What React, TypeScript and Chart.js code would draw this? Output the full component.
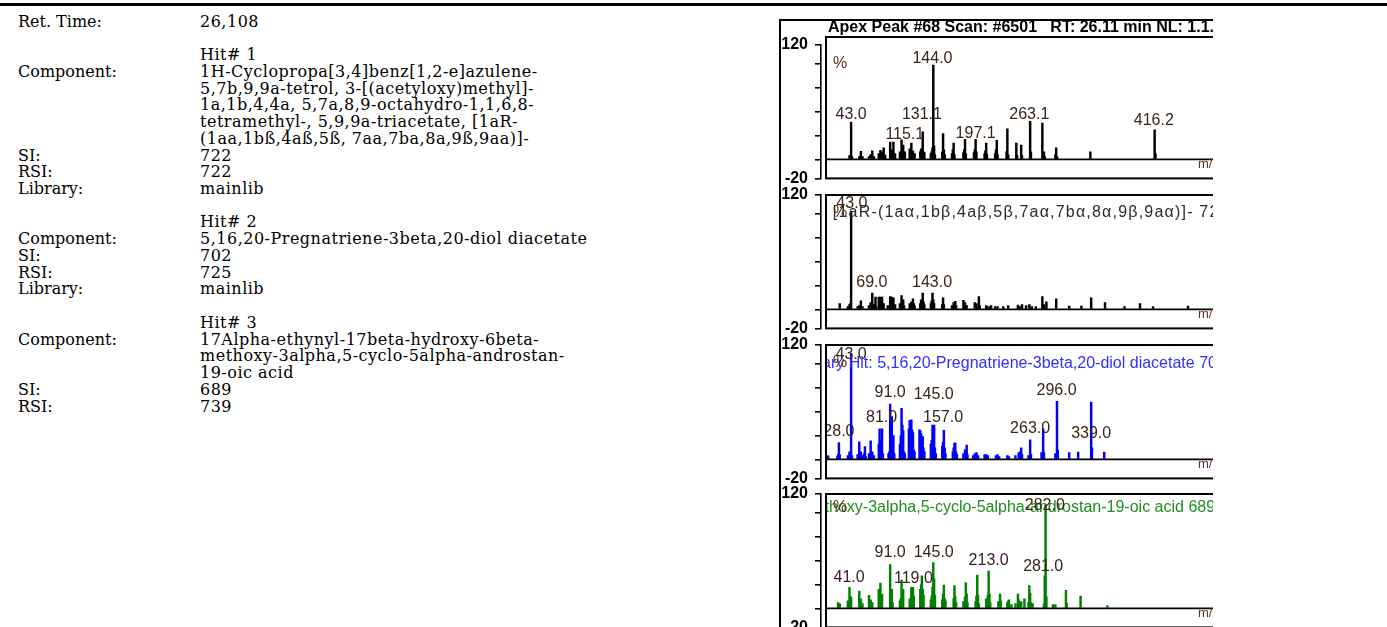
import React, { useEffect, useRef } from "react";
import { Chart, registerables } from "chart.js";

Chart.register(...registerables);

// ---------- left table text ----------
const retTime = "26,108";
const hit1Component = [
  "1H-Cyclopropa[3,4]benz[1,2-e]azulene-",
  "5,7b,9,9a-tetrol, 3-[(acetyloxy)methyl]-",
  "1a,1b,4,4a, 5,7a,8,9-octahydro-1,1,6,8-",
  "tetramethyl-, 5,9,9a-triacetate, [1aR-",
  "(1aa,1bß,4aß,5ß, 7aa,7ba,8a,9ß,9aa)]-",
];
const hit2Component = ["5,16,20-Pregnatriene-3beta,20-diol diacetate"];
const hit3Component = [
  "17Alpha-ethynyl-17beta-hydroxy-6beta-",
  "methoxy-3alpha,5-cyclo-5alpha-androstan-",
  "19-oic acid",
];
const hitSI = ["722", "702", "689"];
const hitRSI = ["722", "725", "739"];
const hitLibrary = ["mainlib", "mainlib"];

// ---------- spectra: [m/z, relative intensity] ----------
const samplePeaks: [number, number][] = [
  [41, 4], [43, 39], [44, 3], [53, 3], [55, 8.5], [57, 3], [65, 3], [67, 5], [69, 9], [71, 3],
  [77, 6], [79, 9.5], [81, 8], [83, 12], [84, 5], [85, 4], [91, 18], [92, 6], [93, 10], [94, 6],
  [95, 18], [96, 5], [97, 6], [103, 8], [104, 7], [105, 20.5], [106, 8], [107, 15], [108, 5], [109, 8],
  [115, 11], [116, 8], [117, 17], [118, 6], [119, 9], [121, 6], [128, 8], [129, 11], [130, 8], [131, 29],
  [132, 8], [133, 7], [141, 6], [142, 8], [143, 12], [144, 99], [145, 14], [146, 5], [155, 8], [156, 27],
  [157, 10], [158, 5], [167, 6], [168, 10], [169, 17], [170, 5], [181, 7], [182, 10], [183, 21], [184, 6],
  [194, 7], [195, 10], [196, 21], [197, 8], [207, 6], [208, 9], [209, 17], [210, 5], [220, 6], [221, 10],
  [222, 20], [223, 5], [234, 8], [235, 32], [236, 5], [246, 17], [247, 4], [252, 15], [253, 4], [263, 40],
  [264, 8], [278, 38], [280, 8], [281, 3], [294, 5], [295, 12], [296, 3], [337, 8], [416, 31], [417, 6],
];
const hit1Peaks: [number, number][] = [
  [29, 6], [39, 3], [41, 5], [42, 6], [43, 103], [51, 3], [53, 4], [55, 9], [57, 3], [65, 4],
  [67, 7], [69, 17], [71, 5], [73, 13], [74, 3], [77, 13], [79, 13], [81, 13], [83, 6], [88, 4],
  [91, 13.5], [92, 10], [93, 13], [94, 6], [95, 12], [97, 5], [103, 6], [105, 14.5], [106, 8], [107, 10],
  [108, 4], [115, 6], [117, 8], [119, 11], [120, 6], [121, 4], [128, 6], [129, 10], [130, 8], [131, 17],
  [132, 8], [133, 5], [141, 6], [142, 9], [143, 17], [144, 10], [145, 6], [155, 5], [156, 12], [157, 5],
  [167, 4], [169, 7], [170, 3], [171, 8.5], [172, 4], [181, 9.5], [182, 4], [183, 7], [185, 4], [195, 7],
  [197, 6], [198, 3], [200, 13.5], [201, 4], [209, 4], [210, 3], [213, 3], [215, 4], [220, 3], [223, 3],
  [230, 3], [236, 4], [248, 4.5], [250, 3], [253, 5], [258, 4], [262, 5], [265, 3], [270, 3], [278, 13.5],
  [280, 5], [283, 8], [295, 11], [311, 3.5], [326, 3.5], [338, 12], [355, 7], [379, 3], [398, 6], [414, 3],
  [457, 3.5],
];
const hit2Peaks: [number, number][] = [
  [14, 4], [15, 3], [26, 3], [27, 5], [28, 17.5], [29, 5], [39, 4], [41, 8], [42, 6], [43, 111],
  [44, 4], [51, 5], [52, 3], [53, 18.5], [54, 4], [55, 8], [57, 4], [59, 6], [60, 13.5], [61, 3],
  [65, 6], [66, 4], [67, 19.5], [68, 5], [69, 8], [71, 4], [77, 16], [78, 32], [79, 20], [80, 6],
  [81, 32], [82, 6], [89, 6], [90, 8], [91, 58], [92, 22], [93, 45], [94, 10], [95, 25], [96, 6],
  [103, 16], [104, 25], [105, 53.5], [106, 36], [107, 30], [108, 8], [109, 6], [114, 32], [115, 41], [116, 28],
  [117, 41.5], [118, 31], [119, 28], [120, 10], [121, 8], [127, 31], [128, 30], [129, 27], [130, 23], [131, 24],
  [132, 12], [133, 8], [141, 16], [142, 20], [143, 36], [144, 18], [145, 36], [146, 12], [147, 6], [155, 14],
  [156, 18], [157, 30.5], [158, 12], [159, 6], [168, 8], [169, 12], [170, 17], [171, 17], [172, 8], [173, 5],
  [181, 6], [183, 10], [184, 8], [185, 15], [186, 5], [193, 4], [195, 6], [197, 7], [199, 4], [207, 5],
  [209, 5], [211, 4], [221, 4], [223, 5], [225, 3], [235, 4], [237, 3], [245, 4], [249, 7], [251, 8],
  [252, 12], [253, 5], [261, 4], [263, 20.5], [264, 5], [277, 7], [279, 32], [280, 7], [294, 6], [296, 61],
  [297, 10], [311, 7], [322, 7.5], [338, 60], [339, 12], [354, 7.5],
];
const hit3Peaks: [number, number][] = [
  [27, 6], [29, 5], [39, 8], [41, 22], [42, 6], [43, 12], [53, 18], [55, 10], [57, 5], [65, 13.6],
  [67, 9], [69, 6], [77, 20], [78, 10], [79, 26.6], [80, 8], [81, 15], [91, 46], [92, 10], [93, 20],
  [94, 6], [103, 8], [104, 10], [105, 29.7], [106, 17], [107, 20], [115, 10], [117, 22], [118, 8], [119, 22],
  [120, 13], [128, 20], [129, 25], [130, 34], [131, 20], [132, 14], [141, 9], [142, 13], [143, 22], [144, 48],
  [145, 31], [146, 14], [155, 9], [156, 15], [157, 24.5], [158, 10], [159, 8], [169, 10], [170, 24], [171, 12],
  [172, 6], [181, 7], [183, 12], [184, 27], [185, 15], [186, 6], [196, 7], [197, 13], [198, 35], [199, 14],
  [200, 5], [209, 10], [211, 14], [212, 39], [213, 15], [214, 6], [224, 7], [226, 15], [227, 8], [235, 6],
  [236, 7.5], [237, 9], [240, 4], [245, 5], [248, 15], [249, 9], [252, 7], [256, 10], [261, 6], [262, 24],
  [263, 16], [264, 6], [266, 5], [280, 5], [281, 34], [282, 109], [283, 12], [291, 4], [294, 4], [307, 19],
  [308, 5], [325, 13], [358, 3],
];

// peak annotations: [text, m/z of text centre, intensity level of text baseline]
const sampleLabels: [string, number, number][] = [
  ["43.0", 43, 42], ["144.0", 143, 101], ["131.1", 130, 42], ["115.1", 109, 21],
  ["197.1", 196, 22], ["263.1", 262, 42], ["416.2", 415, 36],
];
const hit1Labels: [string, number, number][] = [
  ["43.0", 44, 106], ["69.0", 68.5, 23], ["143.0", 142.5, 23],
];
const hit2Labels: [string, number, number][] = [
  ["43.0", 43, 105], ["28.0", 28, 24], ["91.0", 91, 65], ["81.0", 80.5, 39.6], ["145.0", 144.5, 63.5],
  ["157.0", 156, 39.6], ["263.0", 263, 27.6], ["296.0", 295.5, 67.6], ["339.0", 338, 22.5],
];
const hit3Labels: [string, number, number][] = [
  ["282.0", 281, 103], ["91.0", 91, 54], ["145.0", 144.5, 54], ["41.0", 40.5, 28],
  ["119.0", 119.5, 27], ["213.0", 212, 46], ["281.0", 279, 39],
];

const headerTitle = "Apex Peak #68 Scan: #6501   RT: 26.11 min NL: 1.1...";
const hitTitles = [
  "5,7b,9,9a-tetrol, 3-[(acetyloxy)methyl]-1a,1b,4,4a,5,7a,8,9-octahydro-1,1,6,8-tetramethyl-, 5,9,9a-triacetate, [1aR-(1a\u03b1,1b\u03b2,4a\u03b2,5\u03b2,7a\u03b1,7b\u03b1,8\u03b1,9\u03b2,9a\u03b1)]- 722",
  "Library Hit: 5,16,20-Pregnatriene-3beta,20-diol diacetate 702",
  "17Alpha-ethynyl-17beta-hydroxy-6beta-methoxy-3alpha,5-cyclo-5alpha-androstan-19-oic acid 689",
];

const X_MIN = 6;
const X_MAX = 500;
const Y_TICKS = [-20, 0, 25, 50, 75, 100, 120];

type Panel = {
  peaks: [number, number][];
  labels: [string, number, number][];
  color: string;
  titleColor: string;
  title: string | null;
  anchor: string;
  anchorMz: number;
  titleSpacing: number;
  titleLevel: number;
  percentLevel: number;
  top: number;
  boxExtra: number;
};

const panels: Panel[] = [
  { peaks: samplePeaks, labels: sampleLabels, color: "#000000", titleColor: "#000", title: null, anchor: "", anchorMz: 0, titleSpacing: 0, titleLevel: 0, percentLevel: 100, top: 45, boxExtra: 8 },
  { peaks: hit1Peaks, labels: hit1Labels, color: "#000000", titleColor: "#2a2a2a", title: hitTitles[0], anchor: "1aR-", anchorMz: 27.5, titleSpacing: 1.2, titleLevel: 102, percentLevel: 102, top: 195, boxExtra: 0 },
  { peaks: hit2Peaks, labels: hit2Labels, color: "#0000ff", titleColor: "#3030ff", title: hitTitles[1], anchor: "5,16", anchorMz: 75, titleSpacing: 0, titleLevel: 100, percentLevel: 102, top: 345, boxExtra: 0 },
  { peaks: hit3Peaks, labels: hit3Labels, color: "#008000", titleColor: "#1f8f1f", title: hitTitles[2], anchor: "3alpha", anchorMz: 64, titleSpacing: 0, titleLevel: 106, percentLevel: 106, top: 494, boxExtra: 0 },
];

const FRAME_LEFT = 779;
const FRAME_TOP = 19;
const FRAME_RIGHT = 1213;
const PAD_TOP = 26;
const PAD_BOTTOM = 12;
const AREA_H = 138;
const CANVAS_W = 442;
const SANS = '"Liberation Sans", Arial, sans-serif';

function Spectrum({ panel, first }: { panel: Panel; first: boolean }) {
  const ref = useRef<HTMLCanvasElement>(null);
  useEffect(() => {
    const canvas = ref.current;
    if (!canvas) return;
    const annot = {
      id: "annot",
      afterDatasetsDraw(chart: any) {
        const { ctx, chartArea: ca, scales } = chart;
        const xs = scales.x;
        const ys = scales.y;
        const boxL = ca.left + 5;
        const boxTop = ca.top - panel.boxExtra;
        const farRight = ca.right + 30;
        ctx.save();
        ctx.strokeStyle = "#000";
        ctx.lineWidth = 2;
        ctx.strokeRect(boxL, boxTop, farRight - boxL, ca.bottom - boxTop);
        const y0 = ys.getPixelForValue(0);
        ctx.lineWidth = 1.6;
        ctx.beginPath();
        ctx.moveTo(boxL, y0);
        ctx.lineTo(farRight, y0);
        ctx.stroke();

        if (first) {
          ctx.fillStyle = "#000";
          ctx.font = `bold 16px ${SANS}`;
          ctx.textAlign = "left";
          ctx.textBaseline = "middle";
          ctx.fillText(headerTitle, boxL + 2, boxTop - 9);
        }

        ctx.beginPath();
        ctx.rect(boxL + 1, boxTop + 1, farRight - boxL, ca.bottom - boxTop - 2);
        ctx.clip();

        ctx.font = `16px ${SANS}`;
        ctx.textBaseline = "middle";
        ctx.textAlign = "left";
        if (panel.title) {
          (ctx as any).letterSpacing = `${panel.titleSpacing}px`;
          const idx = panel.title.indexOf(panel.anchor);
          const pre = ctx.measureText(panel.title.slice(0, idx)).width;
          ctx.fillStyle = panel.titleColor;
          ctx.fillText(panel.title, xs.getPixelForValue(panel.anchorMz) - pre, ys.getPixelForValue(panel.titleLevel));
          (ctx as any).letterSpacing = "0px";
        }
        ctx.fillStyle = "#5a2c1c";
        ctx.fillText("%", boxL + 7, ys.getPixelForValue(panel.percentLevel));

        ctx.fillStyle = "#3b2417";
        ctx.textAlign = "center";
        ctx.textBaseline = "alphabetic";
        for (const [text, mz, level] of panel.labels) {
          ctx.fillText(text, xs.getPixelForValue(mz), ys.getPixelForValue(level));
        }

        ctx.fillStyle = "#6b2e1e";
        ctx.font = `13px ${SANS}`;
        ctx.textAlign = "left";
        ctx.textBaseline = "middle";
        ctx.fillText("m/z", ca.right - 25, y0 + 5);
        ctx.restore();
      },
    };

    const chart = new Chart(canvas, {
      type: "bar",
      data: {
        datasets: [
          {
            data: panel.peaks.map(([x, y]) => ({ x, y })),
            backgroundColor: panel.color,
            borderWidth: 0,
            barThickness: 1.8,
            grouped: false,
          } as any,
        ],
      },
      options: {
        animation: false,
        responsive: false,
        maintainAspectRatio: false,
        events: [],
        layout: { padding: { top: PAD_TOP, bottom: PAD_BOTTOM, left: 0, right: 0 } },
        plugins: {
          legend: { display: false },
          tooltip: { enabled: false },
          title: { display: false },
        },
        scales: {
          x: {
            type: "linear",
            min: X_MIN,
            max: X_MAX,
            display: false,
            offset: false,
            grid: { offset: false },
          },
          y: {
            min: -20,
            max: 120,
            afterBuildTicks: (s: any) => {
              s.ticks = Y_TICKS.map((v) => ({ value: v }));
            },
            afterFit: (s: any) => {
              s.width = 40;
            },
            ticks: {
              autoSkip: false,
              padding: 7,
              color: "#000",
              font: { family: SANS, size: 16, weight: "bold" },
              callback: (v: any) => (v === 120 || v === -20 ? String(v) : ""),
            },
            grid: { drawOnChartArea: false, drawTicks: true, tickLength: 6, color: "#000", lineWidth: 1.6 },
            border: { display: true, color: "#000", width: 1.6 },
          },
        },
      } as any,
      plugins: [annot],
    });
    return () => chart.destroy();
  }, [panel, first]);

  return (
    <canvas
      ref={ref}
      width={CANVAS_W}
      height={PAD_TOP + AREA_H + PAD_BOTTOM}
      style={{
        position: "absolute",
        left: 0,
        top: panel.top - PAD_TOP - (FRAME_TOP + 2),
        width: CANVAS_W,
        height: PAD_TOP + AREA_H + PAD_BOTTOM,
      }}
    />
  );
}

const tableRows: [string, string][] = [
  ["Ret. Time:", retTime],
  ["", ""],
  ["", "Hit# 1"],
  ...hit1Component.map((l, i) => [i === 0 ? "Component:" : "", l] as [string, string]),
  ["SI:", hitSI[0]],
  ["RSI:", hitRSI[0]],
  ["Library:", hitLibrary[0]],
  ["", ""],
  ["", "Hit# 2"],
  ...hit2Component.map((l, i) => [i === 0 ? "Component:" : "", l] as [string, string]),
  ["SI:", hitSI[1]],
  ["RSI:", hitRSI[1]],
  ["Library:", hitLibrary[1]],
  ["", ""],
  ["", "Hit# 3"],
  ...hit3Component.map((l, i) => [i === 0 ? "Component:" : "", l] as [string, string]),
  ["SI:", hitSI[2]],
  ["RSI:", hitRSI[2]],
];

const LINE_H = 16.74;

export default function App() {
  return (
    <div style={{ position: "absolute", left: 0, top: 0, width: 1387, height: 627, background: "#fff", overflow: "hidden" }}>
      <div style={{ position: "absolute", left: 0, top: 3, width: 1387, height: 3, background: "#000" }} />
      <div
        style={{
          position: "absolute",
          left: 18,
          top: 22 - LINE_H / 2,
          fontFamily: '"DejaVu Serif", serif',
          fontSize: 16,
          lineHeight: `${LINE_H}px`,
          color: "#000",
        }}
      >
        {tableRows.map(([label, value], i) => (
          <div key={i} style={{ position: "relative", height: LINE_H, whiteSpace: "nowrap" }}>
            <span>{label}</span>
            <span style={{ position: "absolute", left: 182, top: 0, letterSpacing: 0.5 }}>{value}</span>
          </div>
        ))}
      </div>
      <div
        style={{
          position: "absolute",
          left: FRAME_LEFT,
          top: FRAME_TOP,
          width: FRAME_RIGHT - FRAME_LEFT,
          height: 627 - FRAME_TOP,
          borderLeft: "2px solid #000",
          borderTop: "2px solid #000",
          boxSizing: "border-box",
          overflow: "hidden",
        }}
      >
        {panels.map((p, i) => (
          <Spectrum key={i} panel={p} first={i === 0} />
        ))}
      </div>
    </div>
  );
}
